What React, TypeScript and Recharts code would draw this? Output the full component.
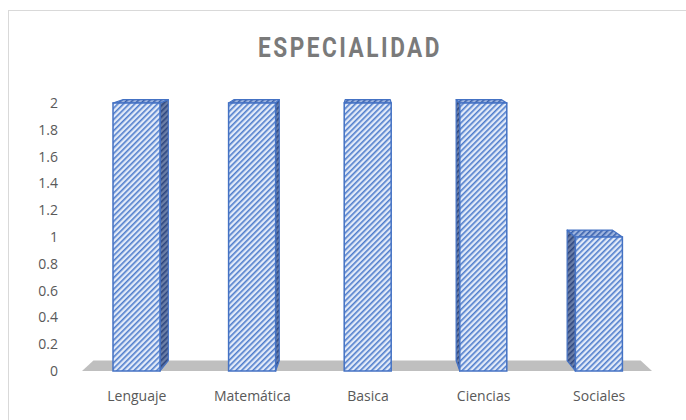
import React from 'react';
import { BarChart, Bar, XAxis, YAxis } from 'recharts';

const categories = ['Lenguaje', 'Matemática', 'Basica', 'Ciencias', 'Sociales'];
const values = [2, 2, 2, 2, 1];
const yTicks = [0, 0.2, 0.4, 0.6, 0.8, 1, 1.2, 1.4, 1.6, 1.8, 2];
const title = 'ESPECIALIDAD';

const data = categories.map((c, i) => ({ name: c, value: values[i] }));

const W = 686;
const H = 420;
const M = { top: 103, right: 29, bottom: 19, left: 19 };
const YW = 60;
const PLOT_L = M.left + YW;
const PLOT_R = W - M.right;
const VX = (PLOT_L + PLOT_R) / 2;
const VY = -25;
const KX = 0.04;
const KY = 0.0265;
const STROKE = '#4472c4';

const back = (p: number[]) => [p[0] + (VX - p[0]) * KX, p[1] - (p[1] - VY) * KY];
const pts = (a: number[][]) => a.map((p) => `${p[0]},${p[1]}`).join(' ');

function Bar3D(props: any) {
  const { x, y, width, height, index } = props;
  if (width == null || height == null) return null;
  const ftl = [x, y];
  const ftr = [x + width, y];
  const fbl = [x, y + height];
  const fbr = [x + width, y + height];
  const cx = x + width / 2;
  let side: number[][] | null = null;
  if (cx < VX - 5) side = [ftr, back(ftr), back(fbr), fbr];
  else if (cx > VX + 5) side = [ftl, back(ftl), back(fbl), fbl];
  const top = [ftl, ftr, back(ftr), back(ftl)];
  let floor: React.ReactNode = null;
  if (index === 0) {
    const base = y + height;
    const fl = [PLOT_L + 3, base];
    const fr = [PLOT_R - 5, base];
    floor = <polygon points={pts([fl, fr, back(fr), back(fl)])} fill="#bfbfbf" />;
  }
  return (
    <g>
      {floor}
      {side && <polygon points={pts(side)} fill="url(#patSide)" stroke={STROKE} strokeWidth={1.2} strokeLinejoin="round" />}
      <polygon points={pts(top)} fill="url(#patTop)" stroke={STROKE} strokeWidth={1.2} strokeLinejoin="round" />
      <rect x={x} y={y} width={width} height={height} fill="url(#patFront)" stroke={STROKE} strokeWidth={1.5} />
    </g>
  );
}

export default function App() {
  return (
    <div style={{ position: 'absolute', left: 0, top: 0, width: W, height: H, overflow: 'hidden', background: '#fff' }}>
      <svg width={W} height={H} style={{ position: 'absolute', left: 0, top: 0 }}>
        <defs>
          <pattern id="patFront" patternUnits="userSpaceOnUse" width="4" height="4" patternTransform="rotate(45)">
            <rect width="4" height="4" fill="#e2eaf8" />
            <rect width="1.6" height="4" fill="#4f7dcc" />
          </pattern>
          <pattern id="patTop" patternUnits="userSpaceOnUse" width="4" height="4" patternTransform="rotate(45)">
            <rect width="4" height="4" fill="#9fb5df" />
            <rect width="1.6" height="4" fill="#3a62ad" />
          </pattern>
          <pattern id="patSide" patternUnits="userSpaceOnUse" width="4" height="4" patternTransform="rotate(45)">
            <rect width="4" height="4" fill="#6b7ea6" />
            <rect width="1.6" height="4" fill="#2d4680" />
          </pattern>
        </defs>
        <rect x={8.5} y={10.5} width={800} height={600} fill="none" stroke="#d9d9d9" strokeWidth={1} />
        <text
          x={350}
          y={57}
          textAnchor="middle"
          textLength={184}
          lengthAdjust="spacingAndGlyphs"
          fontFamily="Roboto, sans-serif"
          fontWeight={700}
          fontSize={27}
          letterSpacing={3}
          fill="#7a7a7a"
        >
          {title}
        </text>
      </svg>
      <div style={{ position: 'absolute', left: 0, top: 0 }}>
        <BarChart width={W} height={H} data={data} margin={M} barSize={47}>
          <XAxis
            dataKey="name"
            axisLine={false}
            tickLine={false}
            tickSize={0}
            tickMargin={20}
            interval={0}
            tick={{ fill: '#595959', fontSize: 14, fontFamily: '"Open Sans", sans-serif' }}
          />
          <YAxis
            width={YW}
            domain={[0, 2]}
            ticks={yTicks}
            axisLine={false}
            tickLine={false}
            tickSize={0}
            tickMargin={21}
            tick={{ fill: '#595959', fontSize: 14, fontFamily: '"Open Sans", sans-serif' }}
          />
          <Bar dataKey="value" shape={<Bar3D />} isAnimationActive={false} />
        </BarChart>
      </div>
    </div>
  );
}
